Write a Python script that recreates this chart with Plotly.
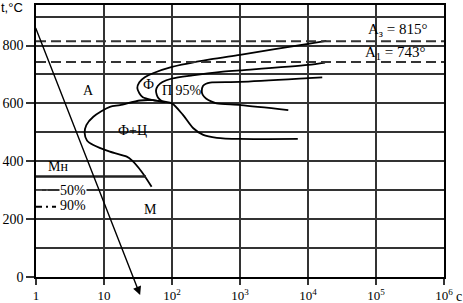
import plotly.graph_objects as go
import math

# ---- data ----
# outer curve (ferrite start)
a_t = [18600, 10000, 1000, 363, 100, 52.5, 39.8, 33.1, 30.9, 33.1, 37.2, 52.5, 79.4]
a_T = [816, 806, 768, 752, 726, 704, 690, 673, 653, 635, 621, 611, 604]
# second curve (ferrite end / pearlite start) merging into lower branch
b_t = [17800, 10000, 1000, 525, 200, 100, 72.4, 61.7, 58.2, 59.6, 63.1, 70.8, 100, 145, 204, 288, 457, 1000, 7080]
b_T = [741, 733, 714, 709, 697, 686, 674, 660, 645, 630, 618, 608, 600, 560, 515, 491, 481, 477, 477]
# pearlite 95% curve
c_t = [16200, 10000, 1000, 363, 316, 285, 274, 282, 316, 384, 454, 1023, 5130]
c_T = [690, 687, 674, 672, 668, 660, 643, 630, 617, 606, 600, 594, 577]
# lower (bainite) curve
d_t = [79.4, 52.5, 33.9, 17.2, 12.2, 6.97, 5.50, 5.19, 5.62, 6.97, 12.2, 21.6, 25.5, 35.8, 50.1]
d_T = [604, 611, 610, 594, 588, 554, 525, 498, 472, 456, 433, 416, 404, 364, 312]

A3 = 815
A1 = 743
Mn_T = 347
Mn_end = 41.5
p90_T = 243
p90_end = 1.97
p50_T = 300
p50_end = 1.7

cool_start = (0.97, 866)
cool_end = (34, -62)

x_ticks = [1, 10, 100, 1000, 1e4, 1e5, 1e6]
x_text = ["1", "10", "10<sup>2</sup>", "10<sup>3</sup>", "10<sup>4</sup>", "10<sup>5</sup>", "10<sup>6</sup>"]
y_ticks = [0, 200, 400, 600, 800]

labels = [
    ("А", 5.82, 645),
    ("Ф", 44.4, 666),
    ("П 95%", 138, 646),
    ("Ф+Ц", 26.3, 508),
    ("М", 47.9, 235),
    ("Мн", 2.1, 383),
]

SERIF = "Liberation Serif"
fig = go.Figure()
curve_style = dict(color="black", width=1.8, shape="spline", smoothing=0.8)
for xs, ys in [(a_t, a_T), (b_t, b_T), (c_t, c_T), (d_t, d_T)]:
    fig.add_trace(go.Scatter(x=xs, y=ys, mode="lines", line=curve_style, hoverinfo="skip"))

for T in (A3, A1):
    fig.add_trace(go.Scatter(x=[1, 1e6], y=[T, T], mode="lines",
                             line=dict(color="#333", width=2, dash="10px,5px"), hoverinfo="skip"))
fig.add_trace(go.Scatter(x=[1, Mn_end], y=[Mn_T, Mn_T], mode="lines",
                         line=dict(color="#222", width=2.5), hoverinfo="skip"))
fig.add_trace(go.Scatter(x=[1, p90_end], y=[p90_T, p90_T], mode="lines",
                         line=dict(color="black", width=2, dash="6px,4px,2px,4px"), hoverinfo="skip"))
fig.add_trace(go.Scatter(x=[1, p50_end], y=[p50_T, p50_T], mode="lines",
                         line=dict(color="#555", width=1.5, dash="6px,4px,2px,4px"), hoverinfo="skip"))
fig.add_trace(go.Scatter(x=[cool_start[0]], y=[cool_start[1]], mode="markers",
                         marker=dict(symbol="x-thin", size=8, line=dict(color="black", width=2)),
                         cliponaxis=False, hoverinfo="skip"))

fig.add_annotation(x=math.log10(cool_end[0]), y=cool_end[1], ax=math.log10(cool_start[0]), ay=cool_start[1],
                   xref="x", yref="y", axref="x", ayref="y", showarrow=True, arrowhead=2,
                   arrowsize=1.2, arrowwidth=1.4, arrowcolor="black", text="")

for txt, x, y in labels:
    fig.add_annotation(x=math.log10(x), y=y, text=txt, showarrow=False,
                       xanchor="center", yanchor="middle",
                       font=dict(family=SERIF, size=14, color="black"))
fig.add_annotation(x=math.log10(3.5), y=p50_T, text="50%", showarrow=False, bgcolor="white",
                   borderpad=0, xanchor="center", yanchor="middle",
                   font=dict(family=SERIF, size=14, color="black"))
fig.add_annotation(x=math.log10(3.5), y=p90_T + 5, text="90%", showarrow=False,
                   xanchor="center", yanchor="middle",
                   font=dict(family=SERIF, size=14, color="black"))
fig.add_annotation(x=5.31, y=855, text="А<sub>з</sub> = 815°", showarrow=False,
                   xanchor="center", yanchor="middle",
                   font=dict(family=SERIF, size=15, color="black"))
fig.add_annotation(x=5.28, y=773, text="А<sub>1</sub> = 743°", showarrow=False,
                   xanchor="center", yanchor="middle",
                   font=dict(family=SERIF, size=15, color="black"))
fig.add_annotation(x=1.036, y=-0.07, xref="paper", yref="paper", text="c", showarrow=False,
                   xanchor="center", yanchor="middle",
                   font=dict(family=SERIF, size=14, color="black"))
fig.add_annotation(x=-0.06, y=0.99, xref="paper", yref="paper", text="t,°C", showarrow=False,
                   xanchor="center", yanchor="middle",
                   font=dict(family="Liberation Sans", size=13, color="black"))

grid = "#333"
fig.update_layout(
    width=463, height=303, margin=dict(l=36, r=19, t=5, b=26, autoexpand=False),
    plot_bgcolor="white", paper_bgcolor="white", showlegend=False,
    font=dict(family=SERIF, size=14, color="black"),
    xaxis=dict(type="log", range=[0, 6], tickvals=x_ticks, ticktext=x_text, automargin=False,
               ticks="outside", ticklen=6, tickcolor=grid, tickwidth=1.5,
               tickfont=dict(family=SERIF, size=13),
               showgrid=True, gridcolor=grid, gridwidth=1.5, zeroline=False,
               showline=True, mirror=True, linecolor="black", linewidth=1.5),
    yaxis=dict(range=[0, 940], tickvals=y_ticks, ticks="outside", ticklen=8, automargin=False,
               tickcolor=grid, tickwidth=1.5, showgrid=True, gridcolor=grid, gridwidth=1.5,
               minor=dict(dtick=100, tick0=0, showgrid=True, gridcolor=grid, gridwidth=1.5, ticks=""),
               zeroline=False, showline=True, mirror=True, linecolor="black", linewidth=1.5),
)
fig.write_html("out.html")
